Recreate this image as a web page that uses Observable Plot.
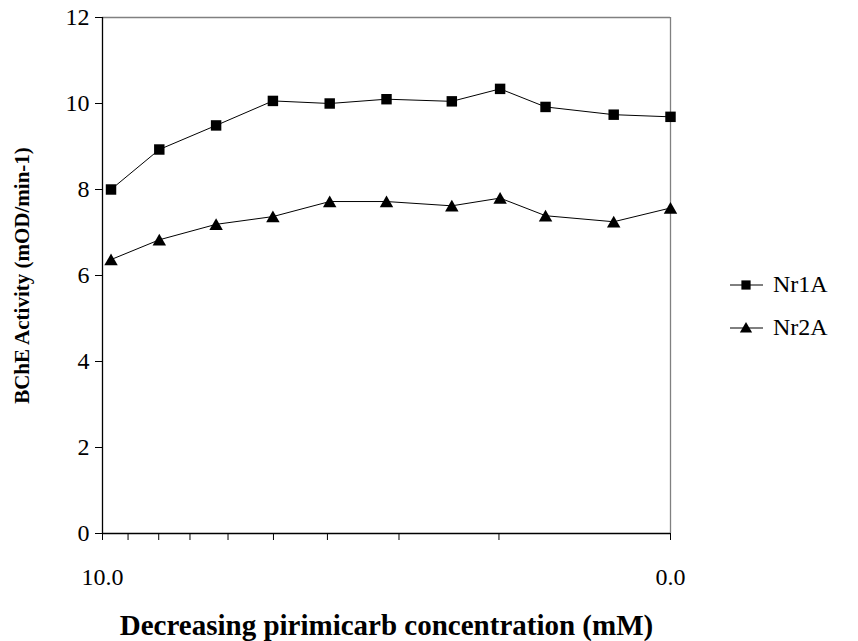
<!DOCTYPE html>
<html>
<head>
<meta charset="utf-8">
<script src="https://cdn.jsdelivr.net/npm/d3@7"></script>
<script src="https://cdn.jsdelivr.net/npm/@observablehq/plot@0.6"></script>
<style>
  html, body { margin: 0; padding: 0; background: #fff; }
  #wrap { position: relative; width: 858px; height: 641px; font-family: "Liberation Serif", "Times New Roman", serif; }
  #legend { position: absolute; left: 730px; top: 263px; font-size: 24px; color: #000; font-family: "Liberation Serif", "Times New Roman", serif; }
  .item { display: flex; align-items: center; height: 43px; }
  .item svg { margin-right: 10px; }
</style>
</head>
<body>
<div id="wrap"><div id="legend"></div></div>
<script>
// Pirimicarb concentration (mM) at each measurement, decreasing left to right
const concentration = [9.85, 9, 8, 7, 6, 5, 3.85, 3, 2.2, 1, 0];
// BChE activity (mOD/min-1)
const nr1a = [8.0, 8.93, 9.49, 10.06, 10.0, 10.10, 10.05, 10.34, 9.92, 9.74, 9.69];
const nr2a = [6.37, 6.83, 7.19, 7.37, 7.72, 7.72, 7.62, 7.80, 7.39, 7.25, 7.57];
const seriesNames = ["Nr1A", "Nr2A"];
const seriesSymbols = ["square", "triangle"];

// axis ticks
const xTickMarks = [10, 9.55, 9.01, 8.46, 7.79, 6.99, 6.04, 4.78, 3.02, 0];
const xTickLabels = [10, 0];
const yTicks = [0, 2, 4, 6, 8, 10, 12];

const rows = [nr1a, nr2a].flatMap((vals, s) =>
  vals.map((v, i) => ({series: seriesNames[s], c: concentration[i], v}))
);
const bySeries = name => rows.filter(d => d.series === name);
const serif = "Liberation Serif";

const chart = Plot.plot({
  width: 858,
  height: 641,
  marginLeft: 102,
  marginRight: 188,
  marginTop: 17,
  marginBottom: 108,
  style: {fontFamily: serif, color: "#000", background: "#fff"},
  x: {domain: [10, 0]},
  y: {domain: [0, 12]},
  marks: [
    // frame: gray on top and right, black axes on the left and bottom
    Plot.ruleY([12], {stroke: "#808080", strokeWidth: 1.3}),
    Plot.ruleX([0], {stroke: "#808080", strokeWidth: 1.3}),
    Plot.axisY({ticks: yTicks, tickSize: 7, tickFormat: () => "", label: null, strokeOpacity: 1}),
    Plot.axisX({ticks: xTickMarks, tickSize: 7, tickFormat: () => "", label: null, strokeOpacity: 1}),
    Plot.ruleX([10], {stroke: "#000", strokeWidth: 1.3}),
    Plot.ruleY([0], {stroke: "#000", strokeWidth: 1.3}),
    // tick labels
    Plot.text(yTicks, {y: d => d, frameAnchor: "left", dx: -13, textAnchor: "end", lineAnchor: "middle", fontSize: 24, fontFamily: serif, fill: "#000"}),
    Plot.text(xTickLabels, {x: d => d, frameAnchor: "bottom", dy: 44, textAnchor: "middle", lineAnchor: "middle", text: d => d.toFixed(1), fontSize: 24, fontFamily: serif, fill: "#000"}),
    // series
    Plot.line(bySeries("Nr1A"), {x: "c", y: "v", stroke: "#000", strokeWidth: 1}),
    Plot.line(bySeries("Nr2A"), {x: "c", y: "v", stroke: "#000", strokeWidth: 1}),
    Plot.dot(bySeries("Nr1A"), {x: "c", y: "v", symbol: "square", r: 5.9, fill: "#000", stroke: "none"}),
    Plot.dot(bySeries("Nr2A"), {x: "c", y: "v", symbol: "triangle", r: 5, dy: 1.8, fill: "#000", stroke: "none"}),
    // axis titles
    Plot.text(["Decreasing pirimicarb concentration (mM)"], {frameAnchor: "bottom", lineAnchor: "middle", textAnchor: "middle", dy: 92, fontWeight: "bold", fontSize: 29, fontFamily: serif, fill: "#000"}),
    Plot.text(["BChE Activity (mOD/min-1)"], {frameAnchor: "left", textAnchor: "middle", lineAnchor: "middle", dx: -80, rotate: -90, fontWeight: "bold", fontSize: 21, fontFamily: serif, fill: "#000"})
  ]
});
document.getElementById("wrap").prepend(chart);

// legend: line with marker, then series name
const legend = d3.select("#legend");
seriesNames.forEach((name, i) => {
  const item = legend.append("div").attr("class", "item");
  const svg = item.append("svg").attr("width", 33).attr("height", 20);
  svg.append("line").attr("x1", 0).attr("x2", 33).attr("y1", 10).attr("y2", 10).attr("stroke", "#000");
  const sym = seriesSymbols[i] === "square" ? d3.symbolSquare : d3.symbolTriangle;
  const size = seriesSymbols[i] === "square" ? 85 : 65;
  svg.append("path").attr("d", d3.symbol(sym, size)()).attr("transform", `translate(16,${seriesSymbols[i] === "square" ? 10 : 11})`).attr("fill", "#000");
  item.append("span").text(name);
});
</script>
</body>
</html>
